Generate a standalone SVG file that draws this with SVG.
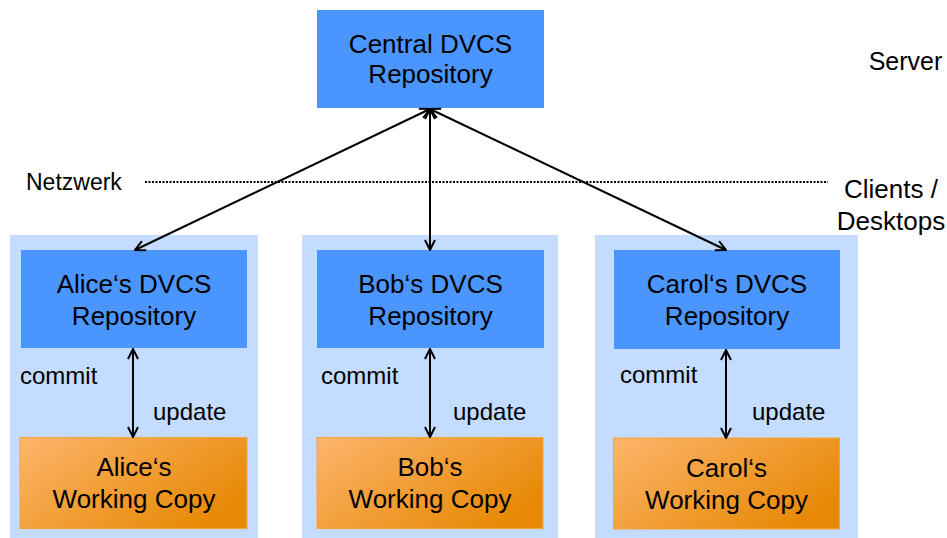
<svg xmlns="http://www.w3.org/2000/svg" width="947" height="538" viewBox="0 0 947 538">
<defs>
<style>
.t{font-family:"Liberation Sans",Arial,sans-serif;fill:#000}
.n{font-size:26px;text-anchor:middle}
.s{font-size:24px}
.repo{fill:#4B95FF}
.bg{fill:#C4DCFF}
.wc{fill:url(#og);stroke:#F5A43C;stroke-width:1}
.c{stroke:#000;stroke-width:2;fill:none;marker-start:url(#ah);marker-end:url(#ah)}
</style>
<linearGradient id="og" x1="0" y1="0" x2="1" y2="0.6">
<stop offset="0" stop-color="#FDB56C"/>
<stop offset="1" stop-color="#E88A08"/>
</linearGradient>
<marker id="ah" viewBox="0 0 12 12" refX="11" refY="6" markerWidth="12" markerHeight="12" markerUnits="userSpaceOnUse" orient="auto-start-reverse">
<path d="M1,1 L11,6 L1,11" fill="none" stroke="#000" stroke-width="2"/>
</marker>
</defs>
<rect width="947" height="538" fill="#fff"/>

<g id="labels">
<text class="t" x="905.5" y="70" font-size="25" text-anchor="middle">Server</text>
<text class="t" x="26" y="190" font-size="23">Netzwerk</text>
<text class="t" x="891" y="198" font-size="26" text-anchor="middle">Clients /</text>
<text class="t" x="891" y="230" font-size="26" text-anchor="middle">Desktops</text>
<line x1="145" y1="182" x2="828" y2="182" stroke="#000" stroke-width="2" stroke-dasharray="2,1.5"/>
</g>

<g id="central">
<rect class="repo" x="317" y="10" width="227" height="98"/>
<text class="t n" x="430.5" y="53">Central DVCS</text>
<text class="t n" x="430.5" y="83">Repository</text>
</g>

<g id="alice-area"><rect class="bg" x="10" y="235" width="248" height="303"/></g>
<g id="bob-area"><rect class="bg" x="302" y="235" width="256" height="303"/></g>
<g id="carol-area"><rect class="bg" x="595" y="235" width="263" height="303"/></g>

<g id="alice-repo">
<rect class="repo" x="21" y="250" width="226" height="98"/>
<text class="t n" x="134" y="293">Alice‘s DVCS</text>
<text class="t n" x="134" y="325">Repository</text>
</g>
<g id="bob-repo">
<rect class="repo" x="317" y="250" width="227" height="98"/>
<text class="t n" x="430.5" y="293">Bob‘s DVCS</text>
<text class="t n" x="430.5" y="325">Repository</text>
</g>
<g id="carol-repo">
<rect class="repo" x="614" y="250" width="226" height="99"/>
<text class="t n" x="727" y="293">Carol‘s DVCS</text>
<text class="t n" x="727" y="325">Repository</text>
</g>

<g id="alice-wc">
<rect class="wc" x="20" y="437.5" width="227" height="91"/>
<text class="t n" x="134" y="476">Alice‘s</text>
<text class="t n" x="134" y="508">Working Copy</text>
</g>
<g id="bob-wc">
<rect class="wc" x="317" y="437.5" width="226" height="91"/>
<text class="t n" x="430" y="476">Bob‘s</text>
<text class="t n" x="430" y="508">Working Copy</text>
</g>
<g id="carol-wc">
<rect class="wc" x="613.5" y="438" width="226" height="91"/>
<text class="t n" x="726.5" y="477">Carol‘s</text>
<text class="t n" x="726.5" y="509">Working Copy</text>
</g>

<g id="edge-labels">
<text class="t s" x="20" y="384">commit</text>
<text class="t s" x="153" y="420">update</text>
<text class="t s" x="321" y="384">commit</text>
<text class="t s" x="453" y="420">update</text>
<text class="t s" x="620" y="383">commit</text>
<text class="t s" x="752" y="420">update</text>
</g>

<g id="connectors">
<line class="c" x1="430" y1="109" x2="135" y2="250"/>
<line class="c" x1="430" y1="109" x2="430" y2="250"/>
<line class="c" x1="430" y1="109" x2="726" y2="250"/>
<line class="c" x1="133" y1="349" x2="133" y2="437"/>
<line class="c" x1="430" y1="349" x2="430" y2="437"/>
<line class="c" x1="726" y1="350" x2="726" y2="438"/>
</g>
</svg>
